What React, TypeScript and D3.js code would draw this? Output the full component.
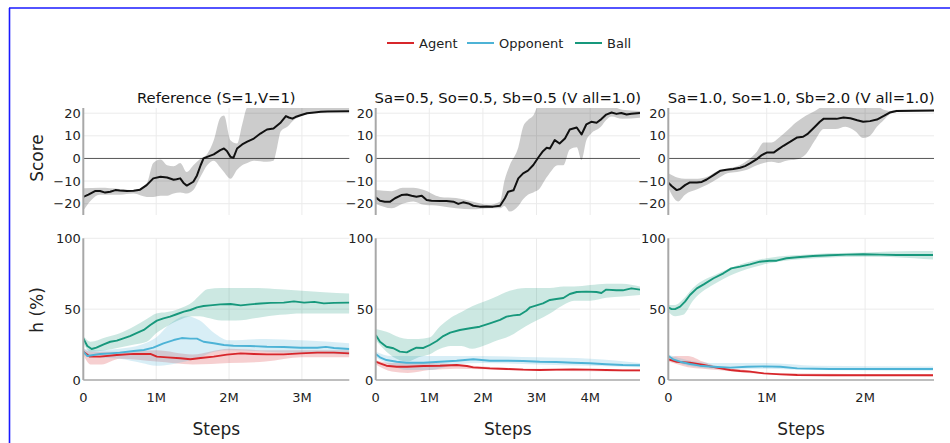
import React from "react";
import * as d3 from "d3";

// ---------- labels ----------
const PANEL_TITLES = [
  "Reference (S=1,V=1)",
  "Sa=0.5, So=0.5, Sb=0.5 (V all=1.0)",
  "Sa=1.0, So=1.0, Sb=2.0 (V all=1.0)",
];
const X_MAX = [3.65, 4.93, 2.7];
const X_TICKS = [
  [0, 1, 2, 3],
  [0, 1, 2, 3, 4],
  [0, 1, 2],
];
const SCORE_TICKS = [-20, -10, 0, 10, 20];
const H_TICKS = [0, 50, 100];
const LEGEND = ["Agent", "Opponent", "Ball"];
const COLORS = ["#d7262b", "#4db3d6", "#17987c"];

// ---------- Score data (x in millions of steps) ----------
const refScore = [[0,-17],[0.07,-16],[0.16,-14.4],[0.23,-14.4],[0.30,-15.1],[0.37,-14.7],[0.44,-14],[0.50,-14.2],[0.60,-14.4],[0.69,-14.3],[0.78,-13.8],[0.87,-11.8],[0.96,-8.8],[1.06,-8.1],[1.15,-8.4],[1.24,-9.4],[1.28,-9.2],[1.33,-8.8],[1.38,-11],[1.42,-12],[1.51,-10.3],[1.56,-7.5],[1.61,-3],[1.65,0],[1.70,0.7],[1.79,1.8],[1.88,3.7],[1.93,4.4],[1.97,3.3],[2.02,0.7],[2.06,0.3],[2.11,4.4],[2.18,6.2],[2.25,7.4],[2.34,8.8],[2.43,11],[2.52,12.8],[2.61,13.2],[2.71,15.9],[2.78,18.7],[2.82,18.1],[2.87,17.6],[2.91,18.3],[2.98,19.1],[3.07,20],[3.17,20.3],[3.26,20.6],[3.35,20.7],[3.65,20.9]];
const refScoreBand = [[0,-23,-13.2],[0.23,-16,-13],[0.5,-16,-13.5],[0.69,-15.5,-14],[0.87,-17,-11],[0.96,-17,-2],[1.06,-16.5,-0.5],[1.15,-16.5,-3],[1.24,-15.5,-3.5],[1.33,-15,-2],[1.42,-15.5,-6],[1.51,-14,-3],[1.61,-8,0],[1.70,-3,2],[1.79,-1,8],[1.88,-4,18],[1.93,-6,19],[2.02,-9,8],[2.11,-5,6.6],[2.18,-3,15],[2.25,-2,22.5],[2.34,-1,23],[2.52,-1.5,23],[2.61,-1,23],[2.66,5,23],[2.71,12,23],[2.80,14,23],[2.89,17,23],[2.98,18.5,23],[3.07,19.5,23],[3.26,20.3,23],[3.65,20.7,23]];

const p2Score = [[0,-17.2],[0.08,-18.7],[0.17,-19.1],[0.27,-19.1],[0.36,-17.6],[0.48,-16.2],[0.58,-15.9],[0.67,-16.5],[0.76,-16.9],[0.86,-16.5],[0.95,-18.4],[1.04,-18.7],[1.20,-18.8],[1.32,-18.8],[1.45,-19.1],[1.54,-20.1],[1.63,-19.4],[1.73,-19.9],[1.82,-20.9],[1.94,-21.3],[2.07,-21.2],[2.19,-21.3],[2.32,-20.9],[2.41,-17.6],[2.47,-14.7],[2.57,-14.1],[2.66,-8.8],[2.75,-6.6],[2.84,-5.4],[2.94,-2.9],[3.03,0.3],[3.12,3.2],[3.19,4.7],[3.25,4.4],[3.34,8.1],[3.43,6.6],[3.53,8.8],[3.62,12.8],[3.75,13.7],[3.84,10.6],[3.93,15.1],[4.02,16.2],[4.12,15.8],[4.21,17.4],[4.30,19.4],[4.40,20.3],[4.49,19.7],[4.58,20.1],[4.68,19.4],[4.77,19.8],[4.93,20.1]];
const p2ScoreBand = [[0,-20,-14],[0.3,-22,-14.5],[0.5,-20,-13],[0.7,-19,-13],[0.9,-20.5,-14],[1.2,-21,-17],[1.5,-22,-17.5],[1.8,-22.5,-19],[2.1,-22,-20.5],[2.32,-22,-19],[2.4,-21,-10],[2.5,-23.5,-3],[2.66,-21,5],[2.75,-18,14],[2.84,-16,17],[2.94,-15,19],[3.03,-14,23],[3.2,-8,23],[3.4,-3,23],[3.5,-3,23],[3.62,4,23],[3.75,5,23],[3.84,-0.7,23],[3.93,8,23],[4.02,11,23],[4.2,14,23],[4.3,17,23],[4.4,18.5,23],[4.6,17.5,21.5],[4.93,18,21]];

const p3Score = [[0,-10.7],[0.034,-12.2],[0.085,-14],[0.12,-13.5],[0.17,-11.8],[0.22,-10.6],[0.29,-10.6],[0.34,-10.4],[0.39,-9.3],[0.46,-7.4],[0.53,-5.4],[0.59,-5],[0.66,-4.7],[0.73,-4.1],[0.78,-3.4],[0.83,-2.2],[0.90,-0.3],[0.95,1.5],[1.0,2.6],[1.07,2.6],[1.12,4.1],[1.17,5.6],[1.24,7.4],[1.31,9.3],[1.37,9.6],[1.42,11],[1.49,14],[1.54,16.2],[1.58,17.6],[1.64,17.6],[1.71,17.5],[1.78,18.1],[1.85,17.8],[1.92,16.9],[1.98,16.2],[2.05,16.5],[2.12,17.2],[2.19,18.8],[2.25,20.3],[2.32,21],[2.49,21.1],[2.70,21.2]];
const p3ScoreBand = [[0,-13,-6.5],[0.1,-19,-8.5],[0.17,-16,-9],[0.3,-13.5,-9],[0.4,-11.5,-8],[0.5,-9,-5.5],[0.6,-6.5,-4.5],[0.7,-6,-3.5],[0.8,-5,-1],[0.9,-3,3],[0.97,-2,7],[1.05,-1.5,7],[1.12,-2,9],[1.2,-1,12],[1.3,-0.5,16],[1.4,2,19],[1.49,8,21],[1.58,13,23],[1.7,13,23],[1.8,14,23],[1.9,12,23],[1.98,9,23],[2.05,10,23],[2.12,14,23],[2.19,17,21.5],[2.25,19.5,21],[2.32,20.5,21.5],[2.70,20.8,21.5]];

// ---------- h (%) data ----------
const refAgent = [[0,20],[0.09,16.5],[0.23,16.5],[0.46,17.6],[0.69,18.4],[0.92,18.4],[1.01,16.5],[1.15,16],[1.33,15.3],[1.47,14.6],[1.61,15.5],[1.79,16.5],[1.97,17.9],[2.16,18.8],[2.34,18.4],[2.52,18.1],[2.75,18.1],[2.98,18.8],[3.21,19.3],[3.44,19.3],[3.65,18.8]];
const refAgentBand = [[0,18,22],[0.1,11,20],[0.25,11,20],[0.5,15,20],[1.0,13,21],[1.5,11,18],[2.0,12,22],[2.5,13,21],[3.0,16,21],[3.65,16,21]];
const refOpp = [[0,20],[0.055,16.9],[0.14,17.6],[0.23,18.4],[0.37,18.8],[0.5,19.3],[0.69,20.5],[0.83,21.2],[0.96,22.8],[1.10,25.9],[1.24,28.2],[1.35,29.6],[1.47,29.2],[1.56,29.2],[1.65,27],[1.79,25.9],[1.93,24.7],[2.06,24.2],[2.29,24],[2.52,23.5],[2.75,23.3],[2.98,22.8],[3.21,22.8],[3.33,23.4],[3.44,22.6],[3.65,21.9]];
const refOppBand = [[0,18,22],[0.2,16,21],[0.5,15,22],[0.8,12,25],[1.0,10,30],[1.2,11,40],[1.4,13,45],[1.6,16,42],[1.8,20,33],[2.0,21,28],[2.5,20,29],[3.0,19,28],[3.65,18,26]];
const refBall = [[0,29.4],[0.055,24],[0.115,21.9],[0.18,22.8],[0.28,25.2],[0.37,27],[0.46,27.8],[0.55,29.4],[0.64,31],[0.73,33],[0.83,35.3],[0.92,38.8],[1.01,41.9],[1.10,43.5],[1.19,44.7],[1.28,46.4],[1.38,48.2],[1.47,49.4],[1.56,51.3],[1.65,52.2],[1.74,52.7],[1.88,53.4],[2.02,53.6],[2.16,52.7],[2.29,53.4],[2.43,54],[2.57,54.4],[2.75,54.6],[2.89,55.5],[3.03,54.6],[3.17,55.1],[3.30,54.1],[3.44,54.4],[3.65,54.6]];
const refBallBand = [[0,26,31],[0.1,20,27],[0.3,21,30],[0.5,23,33],[0.7,25,38],[0.87,27,43],[1.0,33,47],[1.15,38,48],[1.3,42,50],[1.5,45,55],[1.6,45,60],[1.7,44,64],[1.9,42,65],[2.1,42,65],[2.4,44,65],[2.7,46,64],[3.0,47,63],[3.3,47,62],[3.65,47,61]];

const p2Agent = [[0,12.9],[0.08,11.8],[0.2,10.1],[0.39,9.4],[0.58,9.4],[0.89,9.9],[1.2,10.1],[1.51,10.6],[1.70,9.9],[1.82,8.9],[2.13,8.2],[2.44,7.8],[2.75,7.3],[3.06,7.1],[3.37,7.3],[3.68,7.5],[3.99,7.3],[4.30,7.1],[4.61,6.8],[4.93,6.8]];
const p2AgentBand = [[0,11,14],[0.3,6,12],[0.6,5,12],[1.0,7,12],[1.5,8,11],[2.0,7.5,9.5],[3.0,6.5,8],[4.93,6,7.5]];
const p2Opp = [[0,18.4],[0.08,16],[0.2,14.1],[0.39,12.9],[0.58,12.2],[0.89,12.2],[1.2,12.9],[1.51,13.6],[1.82,14.6],[2.13,13.6],[2.44,13.6],[2.75,13.4],[3.06,12.9],[3.37,12.7],[3.68,12.2],[3.99,11.8],[4.30,11.1],[4.61,10.6],[4.93,10.4]];
const p2OppBand = [[0,16,20],[0.3,10,17],[0.6,7,17],[1.0,7,17],[1.5,11,17],[2.0,12,17],[3.0,11,16],[4.0,10,15],[4.93,9,12]];
const p2Ball = [[0,31.8],[0.08,27],[0.2,23.5],[0.33,22.4],[0.45,20],[0.58,19.5],[0.67,21.2],[0.76,22.8],[0.89,22.6],[1.01,24.7],[1.14,27.5],[1.26,31],[1.39,33.4],[1.57,35.3],[1.76,36.5],[1.94,37.6],[2.13,40],[2.32,42.4],[2.44,44.7],[2.57,45.6],[2.69,46],[2.81,48.9],[2.88,51.3],[3.0,52.7],[3.12,54.1],[3.25,56.5],[3.37,57.2],[3.5,57.9],[3.62,60.7],[3.75,62.1],[3.93,62.4],[4.12,62.1],[4.21,61.4],[4.30,63.8],[4.49,63.3],[4.61,63.3],[4.77,64.7],[4.93,63.8]];
const p2BallBand = [[0,28,36],[0.2,20,34],[0.45,14,30],[0.6,13,29],[0.8,16,29],[1.0,18,30],[1.2,22,38],[1.4,24,44],[1.6,24,48],[1.8,22,52],[2.0,24,55],[2.2,27,58],[2.5,31,63],[2.8,38,65],[3.0,42,65],[3.25,47,65],[3.5,53,66],[3.7,56,66],[4.0,56,67],[4.3,58,68],[4.6,59,68],[4.93,60,66]];

const p3Agent = [[0,14.6],[0.085,12.9],[0.22,12.2],[0.36,10.6],[0.49,8.7],[0.63,7.1],[0.73,6.4],[0.83,5.9],[0.97,4.7],[1.14,4],[1.31,3.5],[1.64,3.3],[1.98,3.3],[2.69,3.3]];
const p3AgentBand = [[0,13,16],[0.1,11,17],[0.2,9,17],[0.35,8,13],[0.5,7,9.5],[0.8,5,7],[1.0,4.2,5],[2.69,2.7,4]];
const p3Opp = [[0,17],[0.05,14.6],[0.12,12.9],[0.22,11.3],[0.32,10.1],[0.46,9.4],[0.63,8.7],[0.8,9.4],[0.97,9.6],[1.14,9.4],[1.31,8.2],[1.64,7.8],[1.98,7.8],[2.32,7.8],[2.69,7.8]];
const p3OppBand = [[0,15,18],[0.2,10,14],[0.5,8,12],[1.0,8,12],[1.5,7,10],[2.69,6.5,9.5]];
const p3Ball = [[0,51.2],[0.034,50],[0.068,50],[0.12,51.8],[0.17,55.3],[0.22,60],[0.29,64.7],[0.36,67.5],[0.46,71.8],[0.56,75.3],[0.64,78.8],[0.73,80],[0.83,81.6],[0.93,83.5],[1.03,84.2],[1.1,84.2],[1.2,85.9],[1.31,86.6],[1.47,87.5],[1.64,88],[1.81,88.5],[1.98,88.7],[2.15,88.5],[2.32,88.2],[2.49,88.2],[2.69,88.2]];
const p3BallBand = [[0,48,53],[0.07,45,53],[0.15,46,57],[0.25,56,65],[0.5,69,75],[1.0,82,86],[1.5,86,89],[2.0,87,90],[2.5,86,91],[2.69,85,91]];

const SCORES = [refScore, p2Score, p3Score];
const SCORE_BANDS = [refScoreBand, p2ScoreBand, p3ScoreBand];
const H_SERIES = [
  [refAgent, refOpp, refBall],
  [p2Agent, p2Opp, p2Ball],
  [p3Agent, p3Opp, p3Ball],
];
const H_BANDS = [
  [refAgentBand, refOppBand, refBallBand],
  [p2AgentBand, p2OppBand, p2BallBand],
  [p3AgentBand, p3OppBand, p3BallBand],
];

// ---------- layout ----------
const PANEL_X = [
  [83.3, 349.3],
  [375.7, 640],
  [668.3, 934],
];
const TOP_Y = [215, 108];
const BOT_Y = [380, 238.3];
const FONT = "'DejaVu Sans', sans-serif";

function Panel({ i }: { i: number }) {
  const [x0, x1] = PANEL_X[i];
  const x = d3.scaleLinear().domain([0, X_MAX[i]]).range([x0, x1]);
  const yS = d3.scaleLinear().domain([-25, 22.3]).range(TOP_Y);
  const yH = d3.scaleLinear().domain([0, 100]).range(BOT_Y);

  const lineS = d3.line<number[]>().x((d) => x(d[0])).y((d) => yS(d[1]));
  const areaS = d3
    .area<number[]>()
    .x((d) => x(d[0]))
    .y0((d) => yS(d[1]))
    .y1((d) => yS(d[2]))
    .curve(d3.curveMonotoneX);
  const lineH = d3.line<number[]>().x((d) => x(d[0])).y((d) => yH(d[1]));
  const areaH = d3
    .area<number[]>()
    .x((d) => x(d[0]))
    .y0((d) => yH(d[1]))
    .y1((d) => yH(d[2]))
    .curve(d3.curveMonotoneX);

  const fmt = (t: number) => (t === 0 ? "0" : `${t}M`);
  const cx = (x0 + x1) / 2;
  const clipTop = `clipTop${i}`;
  const clipBot = `clipBot${i}`;

  return (
    <g>
      <defs>
        <clipPath id={clipTop}>
          <rect x={x0} y={TOP_Y[1]} width={x1 - x0} height={TOP_Y[0] - TOP_Y[1]} />
        </clipPath>
        <clipPath id={clipBot}>
          <rect x={x0} y={BOT_Y[1] - 2} width={x1 - x0} height={BOT_Y[0] - BOT_Y[1] + 4} />
        </clipPath>
      </defs>
      <text x={cx} y={97} textAnchor="middle" dominantBaseline="central" fontSize={14.8} fill="#111" fontFamily={FONT}>
        {PANEL_TITLES[i]}
      </text>

      {/* ---- top: Score ---- */}
      {SCORE_TICKS.filter((t) => t !== 0).map((t) => (
        <line key={"hg" + t} x1={x0} x2={x1} y1={yS(t)} y2={yS(t)} stroke="#ebebeb" strokeWidth={1} />
      ))}
      {X_TICKS[i].filter((t) => t !== 0).map((t) => (
        <line key={"vg" + t} x1={x(t)} x2={x(t)} y1={TOP_Y[0]} y2={TOP_Y[1]} stroke="#ebebeb" strokeWidth={1} />
      ))}
      <line x1={x0} x2={x1} y1={yS(0)} y2={yS(0)} stroke="#555" strokeWidth={1} />
      <g clipPath={`url(#${clipTop})`}>
        <path d={areaS(SCORE_BANDS[i]) || ""} fill="#000" fillOpacity={0.2} />
        <path d={lineS(SCORES[i]) || ""} fill="none" stroke="#111" strokeWidth={2} strokeLinejoin="round" />
      </g>
      <line x1={x0} x2={x0} y1={TOP_Y[0]} y2={TOP_Y[1]} stroke="#a8a8a8" strokeWidth={2} />
      {SCORE_TICKS.map((t) => (
        <text key={"sl" + t} x={x0 - 2.5} y={yS(t)} textAnchor="end" dominantBaseline="central" fontSize={13} fill="#222" fontFamily={FONT}>
          {t < 0 ? `\u2212${Math.abs(t)}` : t}
        </text>
      ))}

      {/* ---- bottom: h (%) ---- */}
      {H_TICKS.filter((t) => t !== 0).map((t) => (
        <line key={"hh" + t} x1={x0} x2={x1} y1={yH(t)} y2={yH(t)} stroke="#ebebeb" strokeWidth={1} />
      ))}
      {X_TICKS[i].filter((t) => t !== 0).map((t) => (
        <line key={"vh" + t} x1={x(t)} x2={x(t)} y1={BOT_Y[0]} y2={BOT_Y[1]} stroke="#ebebeb" strokeWidth={1} />
      ))}
      <g clipPath={`url(#${clipBot})`}>
        {H_BANDS[i].map((b, k) => (
          <path key={"hb" + k} d={areaH(b) || ""} fill={COLORS[k]} fillOpacity={0.22} />
        ))}
        {H_SERIES[i].map((s, k) => (
          <path key={"hl" + k} d={lineH(s) || ""} fill="none" stroke={COLORS[k]} strokeWidth={1.9} strokeLinejoin="round" />
        ))}
      </g>
      <line x1={x0} x2={x1} y1={BOT_Y[0]} y2={BOT_Y[0]} stroke="#a8a8a8" strokeWidth={1.5} />
      <line x1={x0} x2={x0} y1={BOT_Y[0]} y2={BOT_Y[1]} stroke="#a8a8a8" strokeWidth={2} />
      {H_TICKS.map((t) => (
        <text key={"hl" + t} x={x0 - 2.5} y={yH(t)} textAnchor="end" dominantBaseline="central" fontSize={13} fill="#222" fontFamily={FONT}>
          {t}
        </text>
      ))}
      {X_TICKS[i].map((t) => (
        <text key={"xl" + t} x={x(t)} y={397} textAnchor="middle" dominantBaseline="central" fontSize={13} fill="#222" fontFamily={FONT}>
          {fmt(t)}
        </text>
      ))}
      <text x={cx} y={429} textAnchor="middle" dominantBaseline="central" fontSize={17} fill="#222" fontFamily={FONT}>
        Steps
      </text>
    </g>
  );
}

const LEGEND_POS = [387, 467, 575];

export default function App() {
  return (
    <svg
      width={950}
      height={443}
      style={{ position: "absolute", left: 0, top: 0, background: "#fff" }}
      fontFamily={FONT}
    >
      <rect x={0} y={0} width={950} height={443} fill="#fff" />
      <line x1={9} x2={950} y1={8} y2={8} stroke="#1a1aff" strokeWidth={1.6} />
      <line x1={9.5} x2={9.5} y1={8} y2={443} stroke="#1a1aff" strokeWidth={1.6} />

      {LEGEND.map((name, k) => (
        <g key={name}>
          <line x1={LEGEND_POS[k]} x2={LEGEND_POS[k] + 27} y1={43} y2={43} stroke={COLORS[k]} strokeWidth={2} />
          <text x={LEGEND_POS[k] + 32} y={43} dominantBaseline="central" fontSize={13} fill="#222" fontFamily={FONT}>
            {name}
          </text>
        </g>
      ))}

      {[0, 1, 2].map((i) => (
        <Panel key={i} i={i} />
      ))}

      <text transform="translate(37,158) rotate(-90)" textAnchor="middle" dominantBaseline="central" fontSize={17} fill="#222" fontFamily={FONT}>
        Score
      </text>
      <text transform="translate(37,310) rotate(-90)" textAnchor="middle" dominantBaseline="central" fontSize={17} fill="#222" fontFamily={FONT}>
        h (%)
      </text>
    </svg>
  );
}
